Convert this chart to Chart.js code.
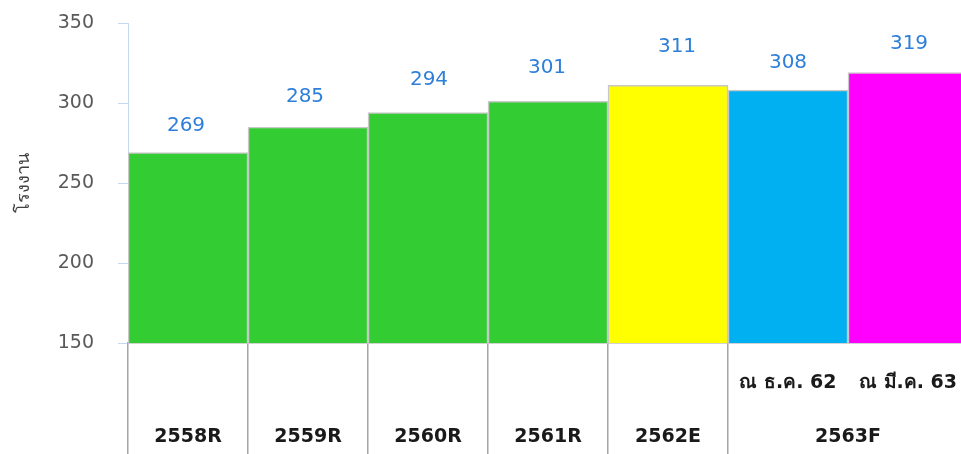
<!DOCTYPE html>
<html>
<head>
<meta charset="utf-8">
<script src="https://cdn.jsdelivr.net/npm/chart.js@4/dist/chart.umd.min.js"></script>
<style>
  html, body { margin: 0; padding: 0; background: #ffffff; overflow: hidden; }
  #wrap { width: 968px; height: 454px; position: relative; }
</style>
</head>
<body>
<div id="wrap"><canvas id="c"></canvas></div>
<script>
// ---- data ----
const categories = ['2558R', '2559R', '2560R', '2561R', '2562E', '2563F ณ ธ.ค. 62', '2563F ณ มี.ค. 63'];
const values = [269, 285, 294, 301, 311, 308, 319];
const subLabels = ['', '', '', '', '', 'ณ ธ.ค. 62', 'ณ มี.ค. 63'];
const groupLabels = ['2558R', '2559R', '2560R', '2561R', '2562E', '2563F'];
const groupSpans = [1, 1, 1, 1, 1, 2];
const yTicks = [150, 200, 250, 300, 350];
const yTitle = 'โรงงาน';

// ---- styles ----
const barColors = ['#33CC33', '#33CC33', '#33CC33', '#33CC33', '#FFFF00', '#00B0F0', '#FF00FF'];
const labelLift = [27, 30, 33, 34, 39, 27, 29];   // px above bar top for the value label
const labelShift = [-2, -3, 1, -1, 9, 0, 1];      // px horizontal nudge for the value label
const FONT = 'Tahoma, "DejaVu Sans", "Noto Sans", sans-serif';

// group centres in category units, derived from the spans
const groupCenters = [];
(function () {
  let start = 0;
  groupSpans.forEach(s => { groupCenters.push(start + (s - 1) / 2); start += s; });
})();
// boundaries (grid line indices) that are interior to a group -> hidden
const hiddenLines = new Set();
(function () {
  let start = 0;
  groupSpans.forEach(s => { for (let k = 1; k < s; k++) hiddenLines.add(start + k); start += s; });
  hiddenLines.add(categories.length);
})();

const valueLabels = {
  id: 'valueLabels',
  afterDatasetsDraw(chart) {
    const ctx = chart.ctx;
    const meta = chart.getDatasetMeta(0);
    ctx.save();
    ctx.font = '20px ' + FONT;
    ctx.fillStyle = '#2E7FD9';
    ctx.textAlign = 'center';
    ctx.textBaseline = 'middle';
    meta.data.forEach((bar, i) => {
      ctx.fillText(String(values[i]), bar.x + labelShift[i], bar.y - labelLift[i]);
    });
    ctx.restore();
  }
};

const groupRow = {
  id: 'groupRow',
  afterDraw(chart) {
    const ctx = chart.ctx;
    const xs = chart.scales.x;
    ctx.save();
    ctx.font = 'bold 19px ' + FONT;
    ctx.fillStyle = '#1A1A1A';
    ctx.textAlign = 'center';
    ctx.textBaseline = 'middle';
    groupLabels.forEach((g, i) => {
      ctx.fillText(g, xs.getPixelForValue(groupCenters[i]), xs.bottom - 17);
    });
    ctx.restore();
  }
};

new Chart(document.getElementById('c'), {
  type: 'bar',
  data: {
    labels: categories,
    datasets: [{
      data: values,
      backgroundColor: barColors,
      borderColor: '#C8C8C8',
      borderWidth: 1.5,
      barPercentage: 1,
      categoryPercentage: 1
    }]
  },
  options: {
    responsive: true,
    maintainAspectRatio: false,
    animation: false,
    layout: { padding: { top: 23, right: 0, left: 0, bottom: 0 } },
    plugins: { legend: { display: false }, tooltip: { enabled: false } },
    scales: {
      y: {
        min: 150, max: 350,
        afterBuildTicks: s => { s.ticks = yTicks.map(v => ({ value: v })); },
        afterFit: s => { s.width = 128; s.paddingTop = 0; s.paddingBottom = 0; },
        ticks: { color: '#595959', font: { size: 19, family: FONT }, padding: 24 },
        grid: { drawOnChartArea: false, tickLength: 10, color: '#C6D9F1', lineWidth: 1 },
        border: { color: '#C6D9F1', width: 1 },
        title: {
          display: true, text: yTitle, color: '#404040',
          font: { size: 18, family: FONT }, padding: { top: 14, bottom: 4 }
        }
      },
      x: {
        afterFit: s => { s.height = 111; },
        ticks: {
          autoSkip: false, maxRotation: 0, minRotation: 0,
          color: '#1A1A1A', font: { size: 19, weight: 'bold', family: FONT },
          padding: -82,
          callback: (v, i) => subLabels[i]
        },
        grid: {
          offset: true, drawOnChartArea: false, tickLength: 111, lineWidth: 1.5,
          color: ctx => hiddenLines.has(ctx.index) ? 'rgba(0,0,0,0)' : '#A6A6A6'
        },
        border: { color: '#A6A6A6', width: 1.5 }
      }
    }
  },
  plugins: [valueLabels, groupRow]
});
</script>
</body>
</html>
